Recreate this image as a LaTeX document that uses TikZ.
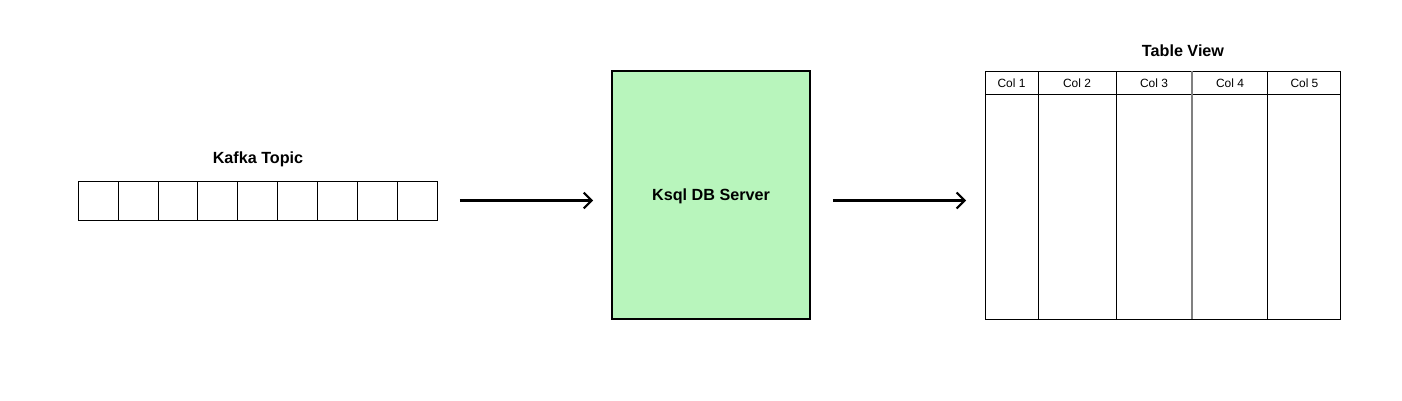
\documentclass[tikz,border=0pt]{standalone}
\usepackage{fontspec}
\setmainfont{Liberation Sans}
\usetikzlibrary{positioning, arrows.meta}
\definecolor{servergreen}{HTML}{B8F5BC}

\begin{document}
\begin{tikzpicture}[x=0.02cm, y=-0.02cm, node distance=0pt,
	cell/.style={draw, line width=0.55pt, minimum width=0.8cm, minimum height=0.78cm, inner sep=0pt, outer sep=0pt},
	head/.style={draw, line width=0.55pt, minimum height=0.47cm, inner sep=0pt, outer sep=0pt, font=\fontsize{6.8}{8}\selectfont},
	body/.style={draw, line width=0.55pt, minimum height=4.5cm, inner sep=0pt, outer sep=0pt},
	title/.style={font=\fontsize{9.2}{10}\selectfont\bfseries},
	flow/.style={line width=1.25pt, -{Straight Barb[length=4.5pt, width=9pt, line width=1.2pt]}}]
	\useasboundingbox (0,0) rectangle (1402,401);
	% kafka topic
	\node (c1) [cell, anchor=north west] at (78,181) {};
	\node (c2) [cell, right=of c1] {};
	\node (c3) [cell, right=of c2] {};
	\node (c4) [cell, right=of c3] {};
	\node (c5) [cell, right=of c4] {};
	\node (c6) [cell, right=of c5] {};
	\node (c7) [cell, right=of c6] {};
	\node (c8) [cell, right=of c7] {};
	\node (c9) [cell, right=of c8] {};
	\node (topic) [title] at (258,159.5) {Kafka Topic};
	% server
	\node (server) [draw, fill=servergreen, line width=1.1pt, minimum width=3.96cm, minimum height=4.96cm, title] at (711,195) {};
	\node (serverlabel) [title] at (711,196.5) {Ksql DB Server};
	% table
	\node (h1) [head, minimum width=1.06cm, anchor=north west] at (985,71) {Col 1};
	\node (h2) [head, minimum width=1.56cm, right=of h1] {Col 2};
	\node (h3) [head, minimum width=1.52cm, right=of h2] {Col 3};
	\node (h4) [head, minimum width=1.52cm, right=of h3] {Col 4};
	\node (h5) [head, minimum width=1.46cm, right=of h4] {Col 5};
	\node (b1) [body, minimum width=1.06cm, below=of h1] {};
	\node (b2) [body, minimum width=1.56cm, below=of h2] {};
	\node (b3) [body, minimum width=1.52cm, below=of h3] {};
	\node (b4) [body, minimum width=1.52cm, below=of h4] {};
	\node (b5) [body, minimum width=1.46cm, below=of h5] {};
	\draw [gray, line width=1.1pt] (h4.north west) -- (b4.south west);
	\node (view) [title] at (1183,50.5) {Table View};
	% arrows
	\coordinate (a1) at ([xshift=22*0.02cm]c9.east);
	\coordinate (a2) at ([xshift=-18*0.02cm]c9.east -| server.west);
	\coordinate (a3) at ([xshift=22*0.02cm]c9.east -| server.east);
	\coordinate (a4) at ([xshift=-19*0.02cm]c9.east -| b1.west);
	\draw [flow] (a1) -- (a2);
	\draw [flow] (a3) -- (a4);
\end{tikzpicture}
\end{document}
